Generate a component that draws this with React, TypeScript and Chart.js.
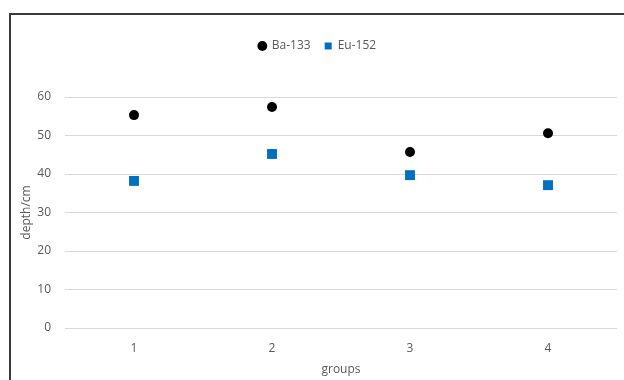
import { useEffect, useRef } from 'react';
import { Chart, registerables } from 'chart.js';

Chart.register(...registerables);

// Categories and measured depths (cm) per source
const groups = ['1', '2', '3', '4'];
const ba133 = [55.3, 57.4, 45.7, 50.6];
const eu152 = [38.2, 45.2, 39.7, 37.1];
const yMin = 0;
const yMax = 60;
const yStep = 10;

const TEXT = '#595959';
const GRID = '#d9d9d9';
const FONT = "'Open Sans', 'Liberation Sans', sans-serif";

export default function App() {
  const canvasRef = useRef<HTMLCanvasElement | null>(null);

  useEffect(() => {
    const canvas = canvasRef.current;
    if (!canvas) return;
    const chart = new Chart(canvas, {
      type: 'line',
      data: {
        labels: groups,
        datasets: [
          {
            label: 'Ba-133',
            data: ba133,
            showLine: false,
            pointStyle: 'circle',
            pointRadius: 5,
            pointBackgroundColor: '#000000',
            pointBorderColor: '#000000',
            pointBorderWidth: 0,
            backgroundColor: '#000000',
            borderColor: '#000000',
          },
          {
            label: 'Eu-152',
            data: eu152,
            showLine: false,
            pointStyle: 'rect',
            pointRadius: 7,
            pointBackgroundColor: '#0070C0',
            pointBorderColor: '#0070C0',
            pointBorderWidth: 0,
            backgroundColor: '#0070C0',
            borderColor: '#0070C0',
          },
        ],
      },
      options: {
        animation: false,
        responsive: false,
        devicePixelRatio: 1,
        layout: { padding: { left: 15, right: 4, top: 26, bottom: 0 } },
        plugins: {
          legend: {
            position: 'top',
            labels: {
              usePointStyle: true,
              boxWidth: 7,
              boxHeight: 7,
              padding: 14,
              color: TEXT,
              font: { family: FONT, size: 12 },
            },
          },
          // blank spacer between the legend and the plot area
          title: {
            display: true,
            text: ' ',
            weight: 500,
            font: { size: 10, lineHeight: 1 },
            padding: { top: 0, bottom: 25 },
          },
          tooltip: { enabled: false },
        },
        scales: {
          x: {
            offset: true,
            grid: { display: false, drawTicks: false },
            border: { display: false },
            ticks: { color: TEXT, font: { family: FONT, size: 12 }, padding: 13 },
            title: {
              display: true,
              text: 'groups',
              color: TEXT,
              font: { family: FONT, size: 12 },
              padding: { top: 0, bottom: 3 },
            },
            afterFit: (axis: any) => {
              axis.height = 52;
            },
          },
          y: {
            min: yMin,
            max: yMax,
            ticks: { stepSize: yStep, color: TEXT, font: { family: FONT, size: 12 }, padding: 14 },
            grid: { color: GRID, lineWidth: 1, drawTicks: false },
            border: { display: false },
            title: {
              display: true,
              text: 'depth/cm',
              color: TEXT,
              font: { family: FONT, size: 12 },
              padding: { top: 4, bottom: 4 },
            },
            afterFit: (axis: any) => {
              axis.width = 50;
            },
          },
        },
      },
    });
    return () => chart.destroy();
  }, []);

  return (
    <div
      style={{
        position: 'fixed',
        left: 0,
        top: 0,
        width: 624,
        height: 380,
        overflow: 'hidden',
        background: '#ffffff',
      }}
    >
      <canvas ref={canvasRef} width={624} height={380} style={{ display: 'block' }} />
      <div
        style={{
          position: 'absolute',
          left: 9,
          top: 13,
          width: 700,
          height: 500,
          borderLeft: '2px solid #3a3a3a',
          borderTop: '2px solid #3a3a3a',
          pointerEvents: 'none',
        }}
      />
    </div>
  );
}
